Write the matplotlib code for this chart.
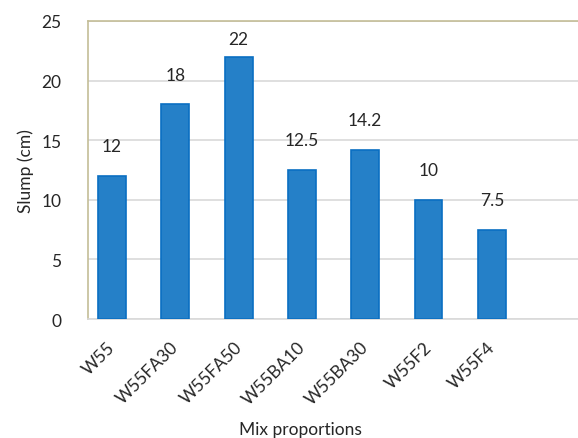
import matplotlib.pyplot as plt
from matplotlib.transforms import ScaledTranslation

# data
mixes = ["W55", "W55FA30", "W55FA50", "W55BA10", "W55BA30", "W55F2", "W55F4"]
slump = [12, 18, 22, 12.5, 14.2, 10, 7.5]
labels = ["12", "18", "22", "12.5", "14.2", "10", "7.5"]

plt.rcParams["font.family"] = ["Lato", "DejaVu Sans"]
txt = "#262626"
fs = 12.5

fig = plt.figure(figsize=(5.78, 4.39), dpi=100)
ax = fig.add_axes([0.152, 0.271, 0.848, 0.679])

x = list(range(len(mixes)))
ax.bar(x, slump, width=0.44, color="#2580C8", edgecolor="#0A6FC2", linewidth=1.2, zorder=3)

# value labels above the bars (top one held under the frame)
for xi, v, lab in zip(x, slump, labels):
    ax.text(xi, min(v + 2.5, 23.5), lab, ha="center", va="center", fontsize=fs, color=txt)

ax.set_ylim(0, 25)
ax.set_xlim(-0.38, 7.36)
ax.set_yticks([0, 5, 10, 15, 20, 25])
ax.yaxis.grid(True, color="#D9D9D9", linewidth=1.2, zorder=0)
ax.tick_params(axis="y", length=0, pad=19, labelsize=fs, labelcolor=txt)
ax.tick_params(axis="x", length=0, pad=14, labelsize=fs, labelcolor=txt)
ax.set_xticks(x)
ax.set_xticklabels(mixes, rotation=45, ha="right", rotation_mode="anchor")
shift = ScaledTranslation(-5 / 100, 0, fig.dpi_scale_trans)
for lbl in ax.get_xticklabels():
    lbl.set_transform(lbl.get_transform() + shift)

for side in ["left", "top"]:
    ax.spines[side].set_color("#C4BD97")
    ax.spines[side].set_linewidth(1.2)
ax.spines["right"].set_visible(False)
ax.spines["bottom"].set_color("#D9D9D9")
ax.spines["bottom"].set_linewidth(1.2)

ax.set_ylabel("Slump (cm)", fontsize=fs, color=txt, labelpad=5)
fig.text(0.52, 0.02, "Mix proportions", ha="center", va="center", fontsize=fs, color=txt)

fig.savefig("out.png", dpi=100)
